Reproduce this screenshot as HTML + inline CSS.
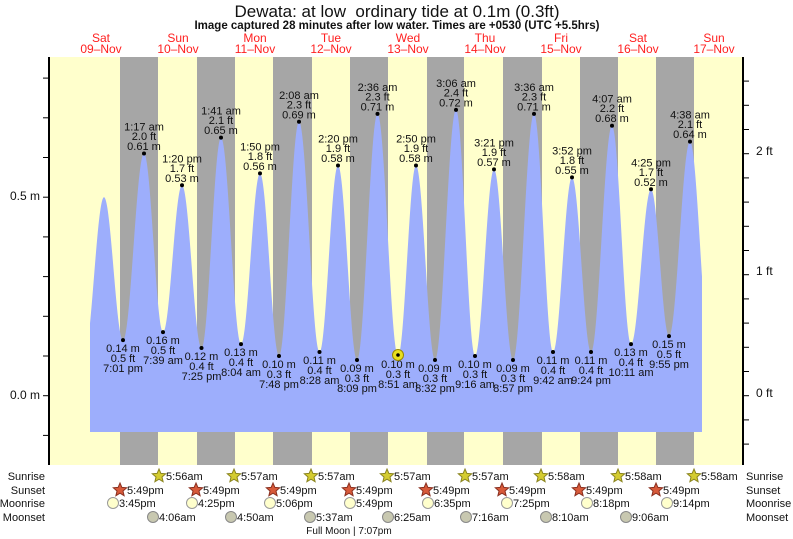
<!DOCTYPE html>
<html><head><meta charset="utf-8"><style>
body{margin:0;background:#fff;}
svg{display:block;font-family:"Liberation Sans",sans-serif;}
</style></head><body>
<svg id="s" width="793" height="539" viewBox="0 0 793 539" xmlns="http://www.w3.org/2000/svg">
<rect x="49" y="57" width="694" height="408" fill="#ffffcc"/>
<g fill="#a6a6a6">
<rect x="120" y="57" width="38" height="408"/><rect x="197" y="57" width="38" height="408"/>
<rect x="273" y="57" width="39" height="408"/><rect x="350" y="57" width="38" height="408"/>
<rect x="427" y="57" width="37" height="408"/><rect x="503" y="57" width="39" height="408"/>
<rect x="580" y="57" width="38" height="408"/><rect x="656" y="57" width="38" height="408"/>
</g>
<path id="tide" fill="#9daefc" d=""/>
<g id="dots"></g>
<g id="labs" font-size="11" fill="#111" text-anchor="middle"></g>
<circle cx="398" cy="355" r="5.5" fill="#e8e020" stroke="#998800" stroke-width="1"/>
<circle cx="398" cy="355" r="1.8" fill="#000"/>
<line x1="49" y1="57" x2="49" y2="465" stroke="#000" stroke-width="2"/>
<line x1="743" y1="57" x2="743" y2="465" stroke="#000" stroke-width="2"/>
<g id="ticks" stroke="#000" stroke-width="1"></g>
<g font-size="12" fill="#111">
<text x="40" y="200" text-anchor="end">0.5 m</text>
<text x="40" y="399" text-anchor="end">0.0 m</text>
<text x="756" y="155">2 ft</text>
<text x="756" y="275">1 ft</text>
<text x="756" y="397">0 ft</text>
</g>
<text x="397" y="17" font-size="17" text-anchor="middle" fill="#111">Dewata: at low&#160; ordinary tide at 0.1m (0.3ft)</text>
<text x="397" y="29" font-size="11.5" font-weight="bold" text-anchor="middle" fill="#111">Image captured 28 minutes after low water. Times are +0530 (UTC +5.5hrs)</text>
<g font-size="12" fill="#ff2020" text-anchor="middle">
<text x="101" y="42">Sat</text><text x="101" y="53">09–Nov</text>
<text x="178" y="42">Sun</text><text x="178" y="53">10–Nov</text>
<text x="255" y="42">Mon</text><text x="255" y="53">11–Nov</text>
<text x="331" y="42">Tue</text><text x="331" y="53">12–Nov</text>
<text x="408" y="42">Wed</text><text x="408" y="53">13–Nov</text>
<text x="485" y="42">Thu</text><text x="485" y="53">14–Nov</text>
<text x="561" y="42">Fri</text><text x="561" y="53">15–Nov</text>
<text x="638" y="42">Sat</text><text x="638" y="53">16–Nov</text>
<text x="714" y="42">Sun</text><text x="714" y="53">17–Nov</text>
</g>
<g font-size="11" fill="#111">
<text x="45" y="480" text-anchor="end">Sunrise</text>
<text x="45" y="494" text-anchor="end">Sunset</text>
<text x="45" y="507" text-anchor="end">Moonrise</text>
<text x="45" y="521" text-anchor="end">Moonset</text>
<text x="746" y="480">Sunrise</text>
<text x="746" y="494">Sunset</text>
<text x="746" y="507">Moonrise</text>
<text x="746" y="521">Moonset</text>
</g>
<g id="astro" font-size="11" fill="#111"></g>
<text x="349" y="534" font-size="10" text-anchor="middle" fill="#111">Full Moon | 7:07pm</text>
</svg>
<script>
var ns="http://www.w3.org/2000/svg";
function Y(h){return 395.7-397*h;}
function el(p,t,a,txt){var e=document.createElementNS(ns,t);for(var k in a)e.setAttribute(k,a[k]);if(txt!==undefined)e.textContent=txt;document.getElementById(p).appendChild(e);return e;}
var ex=[[84,0.10],[104,0.50],[123,0.14],[144,0.61],[163,0.16],[182,0.53],[201.5,0.12],[221,0.65],[241,0.13],[260,0.56],[279,0.10],[299,0.69],[319.5,0.11],[338,0.58],[357,0.09],[377.5,0.71],[398,0.10],[416,0.58],[435,0.09],[456,0.72],[475,0.10],[494,0.57],[513,0.09],[534,0.71],[553,0.11],[572,0.55],[591,0.11],[612,0.68],[631,0.13],[651,0.52],[669,0.15],[690,0.64],[710,0.12]];
function h(x){for(var i=0;i<ex.length-1;i++){var a=ex[i],b=ex[i+1];if(x>=a[0]&&x<=b[0]){var t=(x-a[0])/(b[0]-a[0]);return a[1]+(b[1]-a[1])*(1-Math.cos(Math.PI*t))/2;}}return 0.1;}
var d="M90,432";for(var x=90;x<=702;x+=0.5){d+=" L"+x+","+Y(h(x)).toFixed(1);}d+=" L702,432 Z";
document.getElementById("tide").setAttribute("d",d);
var hi=[[144,"1:17 am","2.0 ft","0.61 m",.61],[182,"1:20 pm","1.7 ft","0.53 m",.53],[221,"1:41 am","2.1 ft","0.65 m",.65],[260,"1:50 pm","1.8 ft","0.56 m",.56],[299,"2:08 am","2.3 ft","0.69 m",.69],[338,"2:20 pm","1.9 ft","0.58 m",.58],[377.5,"2:36 am","2.3 ft","0.71 m",.71],[416,"2:50 pm","1.9 ft","0.58 m",.58],[456,"3:06 am","2.4 ft","0.72 m",.72],[494,"3:21 pm","1.9 ft","0.57 m",.57],[534,"3:36 am","2.3 ft","0.71 m",.71],[572,"3:52 pm","1.8 ft","0.55 m",.55],[612,"4:07 am","2.2 ft","0.68 m",.68],[651,"4:25 pm","1.7 ft","0.52 m",.52],[690,"4:38 am","2.1 ft","0.64 m",.64]];
hi.forEach(function(p){var y=Y(p[4]);el("dots","circle",{cx:p[0],cy:y,r:2,fill:"#000"});el("labs","text",{x:p[0],y:y-23},p[1]);el("labs","text",{x:p[0],y:y-13.5},p[2]);el("labs","text",{x:p[0],y:y-3.5},p[3]);});
var lo=[[123,"0.14 m","0.5 ft","7:01 pm",.14],[163,"0.16 m","0.5 ft","7:39 am",.16],[201.5,"0.12 m","0.4 ft","7:25 pm",.12],[241,"0.13 m","0.4 ft","8:04 am",.13],[279,"0.10 m","0.3 ft","7:48 pm",.10],[319.5,"0.11 m","0.4 ft","8:28 am",.11],[357,"0.09 m","0.3 ft","8:09 pm",.09],[398,"0.10 m","0.3 ft","8:51 am",.10],[435,"0.09 m","0.3 ft","8:32 pm",.09],[475,"0.10 m","0.3 ft","9:16 am",.10],[513,"0.09 m","0.3 ft","8:57 pm",.09],[553,"0.11 m","0.4 ft","9:42 am",.11],[591,"0.11 m","0.4 ft","9:24 pm",.11],[631,"0.13 m","0.4 ft","10:11 am",.13],[669,"0.15 m","0.5 ft","9:55 pm",.15]];
lo.forEach(function(p){var y=Y(p[4]);el("dots","circle",{cx:p[0],cy:y,r:2,fill:"#000"});el("labs","text",{x:p[0],y:y+12},p[1]);el("labs","text",{x:p[0],y:y+22},p[2]);el("labs","text",{x:p[0],y:y+32},p[3]);});
for(var i=-1;i<=9;i++){var y=395.7-39.7*i;if(y>57&&y<466)el("ticks","line",{x1:43,y1:y,x2:49,y2:y});}
for(var i=-3;i<=13;i++){var y=395.7-24.2*i;if(y>57&&y<=466)el("ticks","line",{x1:743,y1:y,x2:749,y2:y});}
function star(cx,cy,fill,stroke){var pts=[];for(var k=0;k<10;k++){var r=k%2?3.2:7,a=-Math.PI/2+k*Math.PI/5;pts.push((cx+r*Math.cos(a)).toFixed(1)+","+(cy+r*Math.sin(a)).toFixed(1));}el("astro","polygon",{points:pts.join(" "),fill:fill,stroke:stroke,"stroke-width":1});}
var sr=[[159,"5:56am"],[234,"5:57am"],[311,"5:57am"],[387,"5:57am"],[465,"5:57am"],[541,"5:58am"],[618,"5:58am"],[694,"5:58am"]];
sr.forEach(function(p){star(p[0],476,"#d4cc30","#8a8420");el("astro","text",{x:p[0]+7,y:480},p[1]);});
var ss=[[120,"5:49pm"],[196,"5:49pm"],[273,"5:49pm"],[349,"5:49pm"],[426,"5:49pm"],[502,"5:49pm"],[579,"5:49pm"],[656,"5:49pm"]];
ss.forEach(function(p){star(p[0],490,"#d85a3a","#8a3020");el("astro","text",{x:p[0]+7,y:494},p[1]);});
var mr=[[113,"3:45pm"],[192,"4:25pm"],[270,"5:06pm"],[350,"5:49pm"],[428,"6:35pm"],[507,"7:25pm"],[587,"8:18pm"],[667,"9:14pm"]];
mr.forEach(function(p){el("astro","circle",{cx:p[0],cy:503,r:5.5,fill:"#ffffcc",stroke:"#999","stroke-width":1});el("astro","text",{x:p[0]+6,y:507},p[1]);});
var ms=[[153,"4:06am"],[231,"4:50am"],[310,"5:37am"],[388,"6:25am"],[466,"7:16am"],[546,"8:10am"],[626,"9:06am"]];
ms.forEach(function(p){el("astro","circle",{cx:p[0],cy:517,r:5.5,fill:"#c8c8b0",stroke:"#888","stroke-width":1});el("astro","text",{x:p[0]+6,y:521},p[1]);});
</script>
</body></html>
